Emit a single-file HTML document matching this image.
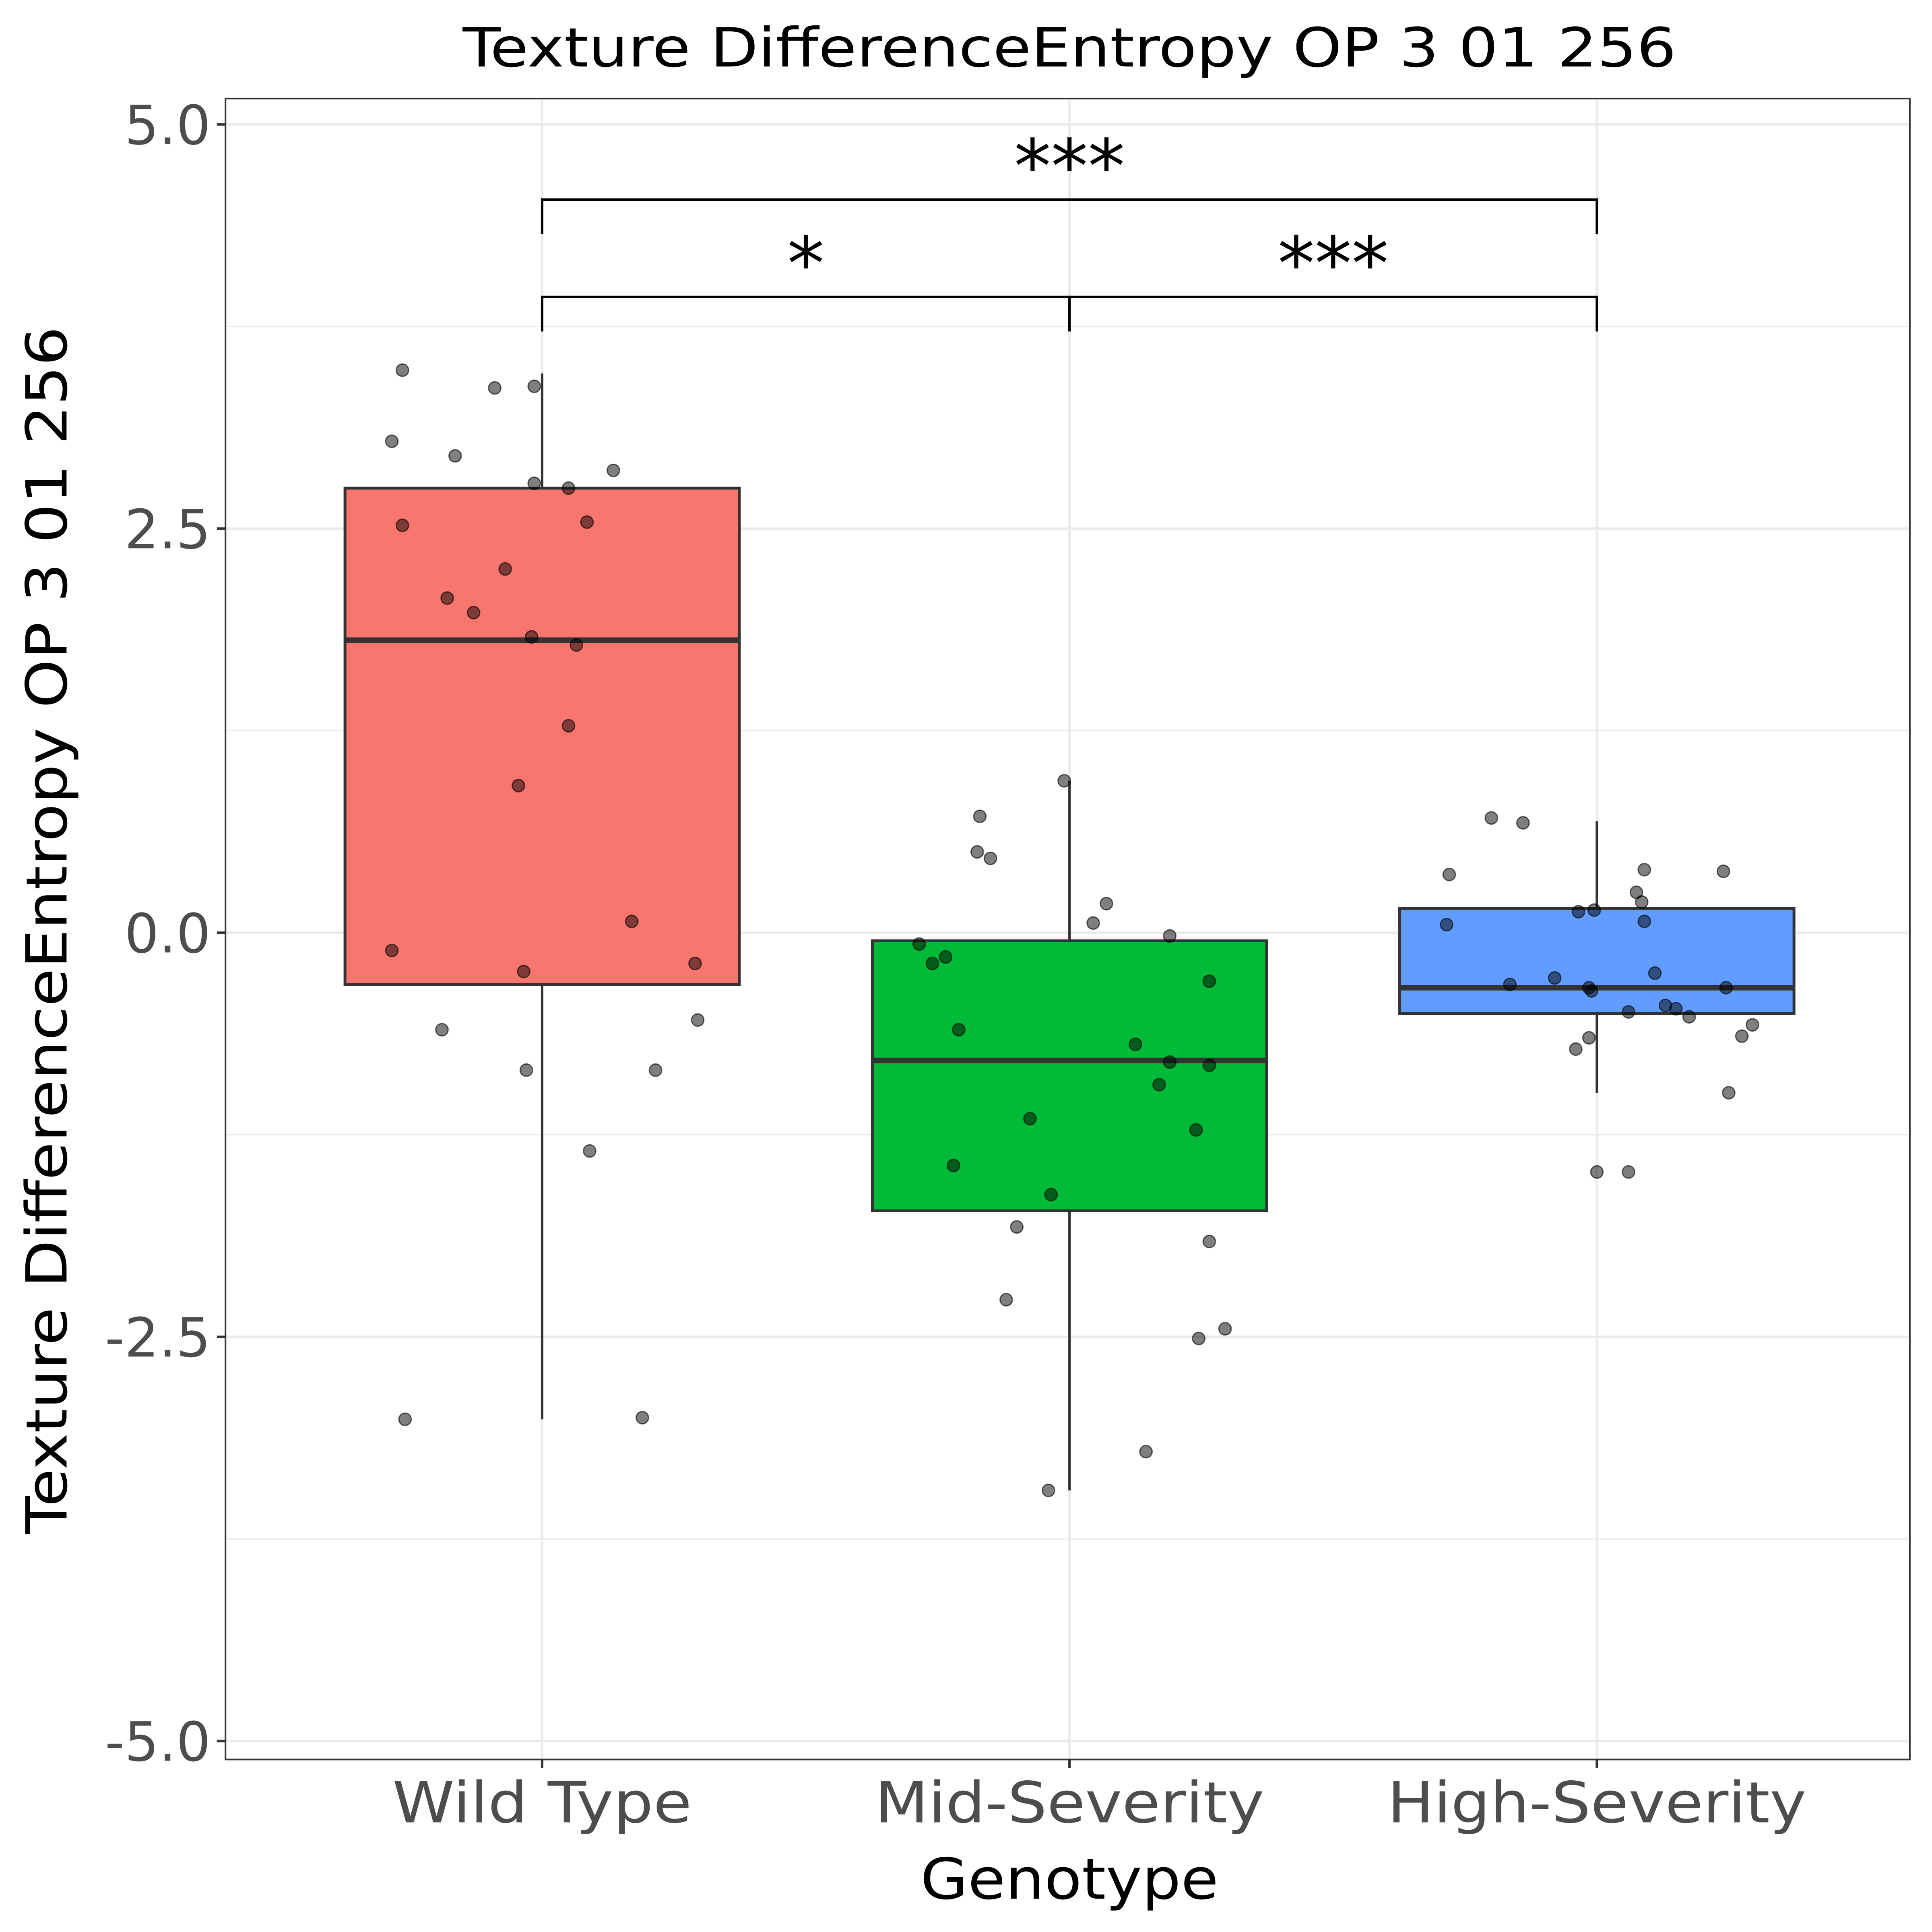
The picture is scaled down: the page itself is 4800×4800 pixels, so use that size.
<!DOCTYPE html>
<html><head><meta charset="utf-8"><style>html,body{margin:0;padding:0;background:#fff}svg{display:block}</style></head>
<body>
<svg id="chart" width="4800" height="4800" viewBox="0 0 1568 1568" xmlns="http://www.w3.org/2000/svg" font-family="'DejaVu Sans', 'Liberation Sans', sans-serif">
<rect x="0" y="0" width="1568" height="1568" fill="#fff"/>
<g id="grid"></g>
<g id="boxes"></g>
<g id="pts"></g>
<rect x="183" y="80" width="1367" height="1348" fill="none" stroke="#333" stroke-width="1.3"/>
<g id="axes"></g>
<g id="sig"></g>
<text x="868" y="54" text-anchor="middle" font-size="44" fill="#000" textLength="985" lengthAdjust="spacingAndGlyphs">Texture DifferenceEntropy OP 3 01 256</text>
<text x="868" y="1541" text-anchor="middle" font-size="46" fill="#000" textLength="242" lengthAdjust="spacingAndGlyphs">Genotype</text>
<text transform="translate(54,755) rotate(-90)" text-anchor="middle" font-size="46" fill="#000" textLength="980" lengthAdjust="spacingAndGlyphs">Texture DifferenceEntropy OP 3 01 256</text>
</svg>
<script>
const categories = ["Wild Type", "Mid-Severity", "High-Severity"];
const colors = ["#F8766D", "#00BA38", "#619CFF"];
const q1 = [-0.32, -1.72, -0.50];
const medians = [1.81, -0.79, -0.34];
const q3 = [2.75, -0.05, 0.15];
const whiskLo = [-3.01, -3.45, -0.99];
const whiskHi = [3.46, 0.94, 0.69];
const yTicks = [5.0, 2.5, 0.0, -2.5, -5.0];
const yTickLabels = ["5.0", "2.5", "0.0", "-2.5", "-5.0"];
const yMinor = [3.75, 1.25, -1.25, -3.75];
const wtVals = [3.48,3.37,3.38,3.04,2.95,2.78,2.75,2.86,2.52,2.54,2.07,2.25,1.98,1.83,1.78,1.28,0.91,-0.11,0.07,-0.24,-0.19,-0.60,-0.54,-0.85,-0.85,-1.35,-3.01,-3.00];
const wtJit = [-0.53,-0.18,-0.03,-0.57,-0.33,-0.03,0.10,0.27,-0.53,0.17,-0.36,-0.14,-0.26,-0.04,0.13,0.10,-0.09,-0.57,0.34,-0.07,0.58,-0.38,0.59,-0.06,0.43,0.18,-0.52,0.38];
const midVals = [0.72,0.94,0.50,0.46,0.18,0.06,-0.02,-0.07,-0.15,-0.19,-0.30,-0.60,-0.69,-0.80,-0.82,-0.94,-1.15,-1.22,-1.44,-1.62,-1.82,-1.91,-2.27,-2.51,-2.45,-3.21,-3.45];
const midJit = [-0.34,-0.02,-0.35,-0.30,0.14,0.09,0.38,-0.57,-0.47,-0.52,0.53,-0.42,0.25,0.38,0.53,0.34,-0.15,0.48,-0.44,-0.07,-0.20,0.53,-0.24,0.49,0.59,0.29,-0.08];
const highVals = [0.71,0.68,0.36,0.39,0.38,0.25,0.13,0.14,0.19,0.05,0.07,-0.28,-0.32,-0.34,-0.36,-0.25,-0.34,-0.45,-0.47,-0.49,-0.52,-0.64,-0.65,-0.57,-0.72,-0.99,-1.48,-1.48];
const highJit = [-0.40,-0.28,-0.56,0.18,0.48,0.15,-0.07,-0.01,0.17,-0.57,0.18,-0.16,-0.33,-0.03,-0.02,0.22,0.49,0.26,0.30,0.12,0.35,0.55,-0.03,0.59,-0.08,0.50,0.00,0.12];
const pointVals = [wtVals, midVals, highVals];
const pointJit = [wtJit, midJit, highJit];

const NS = "http://www.w3.org/2000/svg";
const yScale = v => 757 - v * 131.2;
const xScale = i => 440 + i * 428;
const halfW = 160;
function mk(tag, attrs, parent) {
  const e = document.createElementNS(NS, tag);
  for (const k in attrs) e.setAttribute(k, attrs[k]);
  parent.appendChild(e);
  return e;
}
const grid = document.getElementById("grid");
yMinor.forEach(v => {
  const l = mk("line", {x1:183, x2:1550, y1:yScale(v), y2:yScale(v), stroke:"#ebebeb", "stroke-width":1}, grid);
  
  
});
yTicks.forEach(v => {
  const l = mk("line", {x1:183, x2:1550, y1:yScale(v), y2:yScale(v), stroke:"#ebebeb", "stroke-width":2}, grid);
  
  
});
categories.forEach((c, i) => {
  const l = mk("line", {x1:xScale(i), x2:xScale(i), y1:80, y2:1428, stroke:"#ebebeb", "stroke-width":2}, grid);
  
  
});
const boxes = document.getElementById("boxes");
categories.forEach((c, i) => {
  const x = xScale(i);
  const g = mk("g", {}, boxes);
  
  
  mk("line", {x1:x, x2:x, y1:yScale(whiskHi[i]), y2:yScale(q3[i]), stroke:"#333", "stroke-width":2}, g);
  mk("line", {x1:x, x2:x, y1:yScale(q1[i]), y2:yScale(whiskLo[i]), stroke:"#333", "stroke-width":2}, g);
  mk("rect", {x:x-halfW, y:yScale(q3[i]), width:2*halfW, height:yScale(q1[i])-yScale(q3[i]), fill:colors[i], stroke:"#333", "stroke-width":2.3}, g);
  mk("line", {x1:x-halfW, x2:x+halfW, y1:yScale(medians[i]), y2:yScale(medians[i]), stroke:"#333", "stroke-width":4.5}, g);
});
const pts = document.getElementById("pts");
pointVals.forEach((arr, i) => {
  arr.forEach((v, j) => {
    const p = mk("circle", {cx:xScale(i) + pointJit[i][j] * 214, cy:yScale(v), r:5, fill:"rgba(0,0,0,0.5)", stroke:"rgba(0,0,0,0.6)", "stroke-width":1}, pts);
    
    
  });
});
const axes = document.getElementById("axes");
yTicks.forEach((v, k) => {
  const t = mk("line", {x1:176, x2:183, y1:yScale(v), y2:yScale(v), stroke:"#333", "stroke-width":2}, axes);
  
  
  const tx = mk("text", {x:171, y:yScale(v)+16, "text-anchor":"end", "font-size":44, fill:"#4d4d4d"}, axes);
  tx.textContent = yTickLabels[k];
  
  
});
const xLabelW = [243, 316, 340];
categories.forEach((c, i) => {
  const t = mk("line", {x1:xScale(i), x2:xScale(i), y1:1428, y2:1435, stroke:"#333", "stroke-width":2}, axes);
  
  
  const tx = mk("text", {x:xScale(i), y:1479, "text-anchor":"middle", "font-size":46, fill:"#4d4d4d", textLength:xLabelW[i], lengthAdjust:"spacingAndGlyphs"}, axes);
  tx.textContent = c;
  
  
});
const sig = document.getElementById("sig");
const brackets = [[0,2,162,"***"],[0,1,241,"*"],[1,2,241,"***"]];
brackets.forEach(b => {
  const x1 = xScale(b[0]), x2 = xScale(b[1]), y = b[2];
  const p = mk("path", {d:`M${x1},${y+28}V${y}H${x2}V${y+28}`, fill:"none", stroke:"#000", "stroke-width":2}, sig);
  
  
  const t = mk("text", {x:(x1+x2)/2, y:y-6, "text-anchor":"middle", "font-size":60, fill:"#000"}, sig);
  t.textContent = b[3];
  
  
});
</script>
</body></html>
